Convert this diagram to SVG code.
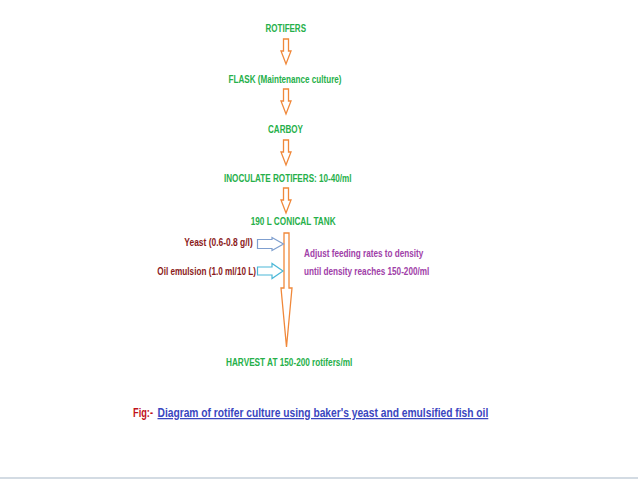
<svg xmlns="http://www.w3.org/2000/svg" width="638" height="479" viewBox="0 0 638 479">
<style>
text{font-family:"Liberation Sans",Arial,sans-serif;font-weight:bold;font-size:10.5px}
.g{fill:#26b04a}
.r{fill:#8b1a1a}
.p{fill:#a040a8}
.oa{fill:#fff;stroke:#f0883a;stroke-width:1.3;stroke-linejoin:miter}
.ba{fill:#fff;stroke:#7f9fcf;stroke-width:1.2}
.ca{fill:#fff;stroke:#4cb8d8;stroke-width:1.2}
.cap{font-size:12.5px}
</style>
<rect width="638" height="479" fill="#fff"/>
<g id="connectors">
<path class="oa" d="M283.5,39 h5 v12 h2.5 l-5,13 l-5,-13 h2.5 z"/>
<path class="oa" d="M283.5,89 h5 v12 h2.5 l-5,13 l-5,-13 h2.5 z"/>
<path class="oa" d="M283.5,140 h5 v12 h2.5 l-5,13 l-5,-13 h2.5 z"/>
<path class="oa" d="M283.5,188 h5 v12 h2.5 l-5,13 l-5,-13 h2.5 z"/>
<path class="oa" d="M284,233 h5 v55 h3 l-5.5,59 l-5.5,-59 h3 z"/>
<path class="ba" d="M257.5,239.5 h14.5 v-2 l11.5,6.5 l-11.5,6.5 v-2 h-14.5 z"/>
<path class="ca" d="M257.5,267 h14.5 v-3.5 l11,7.5 l-11,7.5 v-3.5 h-14.5 z"/>
</g>
<g id="n1"><text class="g" x="265.5" y="31.5" textLength="40.5" lengthAdjust="spacingAndGlyphs">ROTIFERS</text></g>
<g id="n2"><text class="g" x="228.5" y="82.5" textLength="113" lengthAdjust="spacingAndGlyphs">FLASK (Maintenance culture)</text></g>
<g id="n3"><text class="g" x="268" y="133" textLength="35" lengthAdjust="spacingAndGlyphs">CARBOY</text></g>
<g id="n4"><text class="g" x="224" y="182" textLength="127.5" lengthAdjust="spacingAndGlyphs">INOCULATE ROTIFERS: 10-40/ml</text></g>
<g id="n5"><text class="g" x="250.7" y="225" textLength="85" lengthAdjust="spacingAndGlyphs">190 L CONICAL TANK</text></g>
<g id="n6"><text class="r" x="184.3" y="246" textLength="68.4" lengthAdjust="spacingAndGlyphs">Yeast (0.6-0.8 g/l)</text></g>
<g id="n7"><text class="r" x="157.3" y="274.5" textLength="98.7" lengthAdjust="spacingAndGlyphs">Oil emulsion (1.0 ml/10 L)</text></g>
<g id="n8">
<text class="p" x="304" y="256.5" textLength="119.3" lengthAdjust="spacingAndGlyphs">Adjust feeding rates to density</text>
<text class="p" x="304" y="274.5" textLength="125.3" lengthAdjust="spacingAndGlyphs">until density reaches 150-200/ml</text>
</g>
<g id="n9"><text class="g" x="226" y="366" textLength="126.3" lengthAdjust="spacingAndGlyphs">HARVEST AT 150-200 rotifers/ml</text></g>
<g id="caption">
<text class="cap" y="417"><tspan x="133" style="fill:#c0121a" textLength="20" lengthAdjust="spacingAndGlyphs">Fig:-</tspan><tspan x="157.5" style="fill:#3a46c0;text-decoration:underline" textLength="330.8" lengthAdjust="spacingAndGlyphs">Diagram of rotifer culture using baker's yeast and emulsified fish oil</tspan></text>
</g>
<rect x="0" y="477" width="638" height="2" fill="#d3dbe3"/>
</svg>
